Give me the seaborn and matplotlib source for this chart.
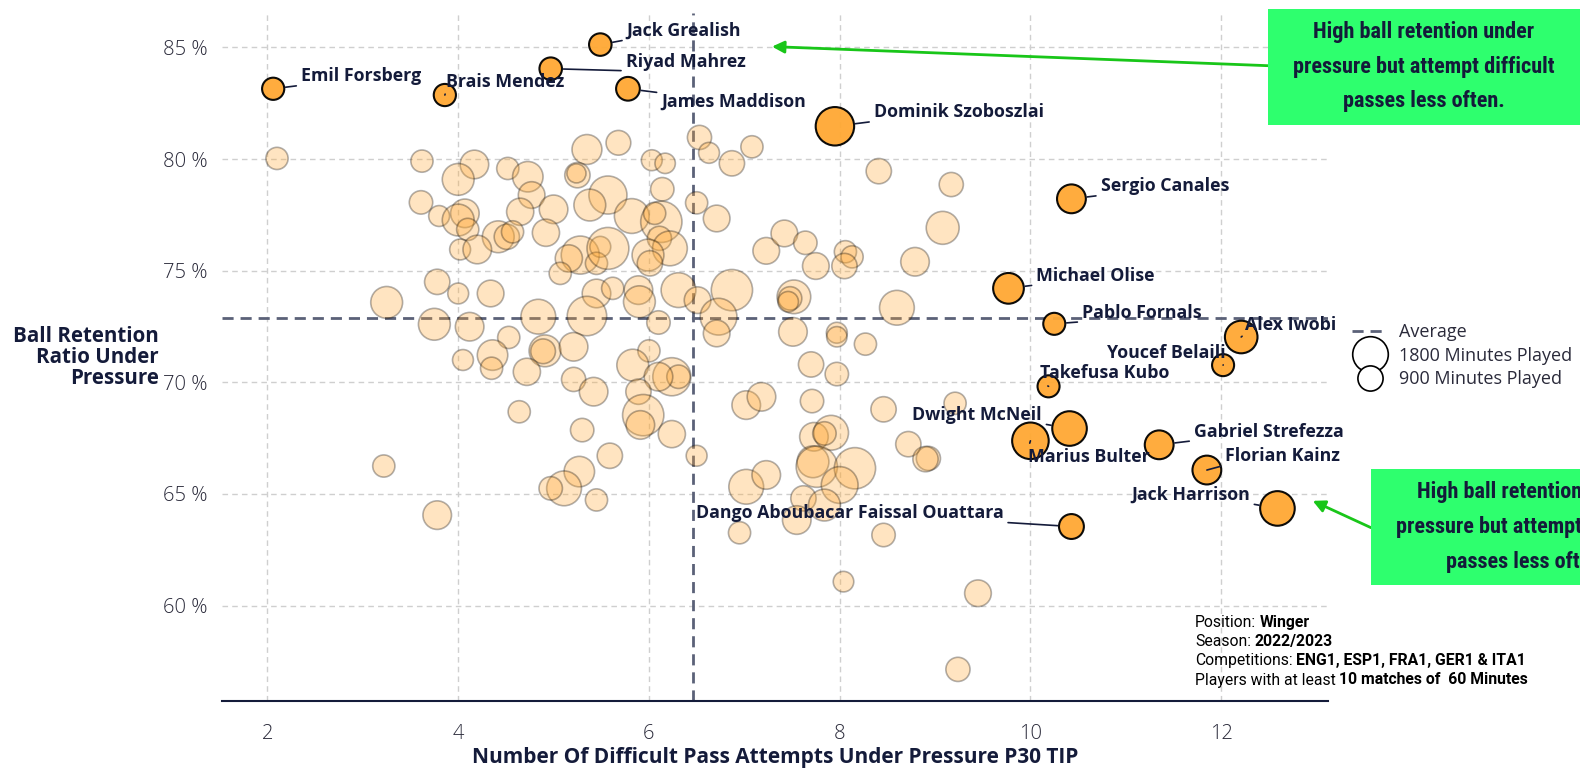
import numpy as np
import matplotlib
matplotlib.use("Agg")
import matplotlib.pyplot as plt
import seaborn as sns
from matplotlib.lines import Line2D
from matplotlib.patches import Rectangle
from matplotlib import font_manager

# --- data -------------------------------------------------------------------
# all other wingers (light bubbles)
others_x = [2.10, 3.62, 4.17, 4.00, 4.52, 4.73, 4.77, 5.35, 5.68, 5.25, 5.24, 5.57, 5.38,
            3.61, 3.80, 4.07, 4.00, 4.10, 4.65, 5.00, 4.92, 4.42, 4.51, 4.57, 4.02, 4.20,
            5.28, 5.16, 5.49, 5.45, 5.57, 5.07, 3.78, 4.00, 4.34, 3.25, 5.45, 5.62, 3.75,
            4.12, 4.84, 5.35, 4.53, 4.91, 4.89, 5.21, 4.05, 4.36, 4.35, 4.72, 5.21, 5.42,
            6.53, 6.63, 7.08, 6.87, 6.03, 6.17, 8.41, 9.17, 6.14, 6.50, 6.71, 5.82, 6.13,
            6.06, 6.11, 6.22, 5.99, 6.01, 7.23, 7.42, 7.64, 7.75, 8.06, 8.13, 8.05, 9.08,
            8.79, 5.89, 5.90, 6.31, 6.51, 6.87, 6.73, 6.71, 6.10, 7.52, 7.48, 7.46, 8.60,
            7.51, 7.97, 7.97, 8.27, 6.00, 5.83, 6.24, 6.31, 6.10, 7.70, 7.97, 5.89, 7.02,
            7.18, 7.71, 8.46, 9.21, 5.94, 5.91, 6.24, 6.50, 5.59, 7.73, 7.91, 7.84, 7.72,
            7.76, 8.16, 8.00, 7.62, 7.84, 7.55, 8.72, 8.93, 8.90, 7.02, 7.23, 6.95, 8.46,
            8.04, 9.45, 9.24, 4.64, 5.30, 5.27, 5.11, 4.97, 5.45, 3.22, 3.78]
others_y = [80.03, 79.91, 79.76, 79.09, 79.58, 79.21, 78.39, 80.43, 80.73, 79.28, 79.36, 78.39, 77.94,
            78.06, 77.45, 77.57, 77.27, 76.85, 77.64, 77.75, 76.70, 76.52, 76.52, 76.74, 75.95, 75.95,
            75.70, 75.55, 76.07, 75.33, 76.00, 74.88, 74.50, 73.98, 73.98, 73.58, 73.98, 74.21, 72.60,
            72.49, 72.94, 72.97, 72.01, 71.41, 71.39, 71.59, 71.00, 71.22, 70.63, 70.47, 70.13, 69.58,
            80.97, 80.28, 80.55, 79.81, 79.95, 79.81, 79.46, 78.86, 78.65, 78.04, 77.34, 77.45, 77.19,
            77.57, 76.45, 76.00, 75.70, 75.33, 75.89, 76.67, 76.25, 75.21, 75.85, 75.62, 75.21, 76.92,
            75.40, 74.13, 73.61, 74.13, 73.68, 74.13, 72.94, 72.19, 72.68, 73.83, 73.76, 73.61, 73.34,
            72.26, 72.22, 72.04, 71.71, 71.41, 70.77, 70.25, 70.25, 70.25, 70.80, 70.37, 69.58, 68.98,
            69.35, 69.16, 68.79, 69.06, 68.53, 68.09, 67.68, 66.71, 66.71, 67.56, 67.74, 67.71, 66.44,
            66.22, 66.15, 65.40, 64.80, 64.50, 63.83, 67.23, 66.59, 66.56, 65.32, 65.85, 63.26, 63.16,
            61.07, 60.55, 57.14, 68.68, 67.86, 66.00, 65.25, 65.25, 64.73, 66.25, 64.05]
others_minutes = [700, 700, 1160, 1440, 700, 1320, 1010, 1270, 870, 910, 520, 2060, 1440,
                  780, 620, 1160, 1440, 700, 1050, 1160, 1050, 1440, 910, 700, 620, 1160,
                  2060, 1050, 620, 700, 2490, 700, 910, 620, 1010, 1440, 1160, 700, 1440,
                  1160, 1720, 2210, 700, 1440, 870, 1160, 620, 1320, 700, 1050, 830, 1160,
                  830, 620, 700, 910, 620, 590, 910, 830, 780, 700, 1010, 1720, 2420,
                  700, 830, 1720, 1440, 910, 1010, 1010, 780, 1010, 700, 700, 910, 1540,
                  1160, 1160, 1440, 1720, 1010, 2420, 1920, 1010, 780, 1610, 780, 600, 1720,
                  1160, 620, 590, 700, 700, 1440, 2060, 780, 1160, 910, 780, 910, 1160,
                  1160, 780, 910, 700, 2420, 1160, 1050, 620, 910, 1160, 1720, 780, 1440,
                  2420, 2420, 1920, 910, 1440, 1160, 910, 830, 910, 1720, 1160, 700, 780,
                  600, 1010, 830, 700, 780, 1320, 1720, 780, 700, 700, 1160]

# highlighted players
names = ['Emil Forsberg', 'Brais Mendez', 'Jack Grealish', 'Riyad Mahrez', 'James Maddison',
         'Dominik Szoboszlai', 'Sergio Canales', 'Michael Olise', 'Pablo Fornals', 'Alex Iwobi',
         'Youcef Belaili', 'Takefusa Kubo', 'Dwight McNeil', 'Marius Bulter', 'Gabriel Strefezza',
         'Florian Kainz', 'Jack Harrison', 'Dango Aboubacar Faissal Ouattara']
hl_x = [2.06, 3.86, 5.49, 4.97, 5.78, 7.95, 10.43, 9.77, 10.25, 12.21,
        12.02, 10.19, 10.41, 10.00, 11.35, 11.85, 12.59, 10.43]
hl_y = [83.15, 82.87, 85.13, 84.05, 83.15, 81.47, 78.22, 74.21, 72.62, 72.03,
        70.77, 69.82, 67.93, 67.38, 67.20, 66.07, 64.35, 63.54]
hl_minutes = [700, 700, 720, 720, 800, 2100, 1180, 1340, 690, 1510,
              690, 690, 1700, 1900, 1180, 1180, 1700, 880]

avg_x = [6.46]
avg_y = [72.9]

x_ticks = [2, 4, 6, 8, 10, 12]
y_ticks = [60, 65, 70, 75, 80, 85]
y_ticklabels = [f"{v} %" for v in y_ticks]

legend_minutes = [1800, 900]

# --- layout / style ----------------------------------------------------------
# label offsets in points (dx, dy, ha)
label_pos = {
    'Emil Forsberg': (20, 9, 'left'), 'Brais Mendez': (1, 9.5, 'left'),
    'Jack Grealish': (19, 10, 'left'), 'Riyad Mahrez': (54, 5, 'left'),
    'James Maddison': (24, -9.5, 'left'), 'Dominik Szoboszlai': (28, 10, 'left'),
    'Sergio Canales': (21, 9, 'left'), 'Michael Olise': (20, 9, 'left'),
    'Pablo Fornals': (20, 8, 'left'), 'Alex Iwobi': (3, 9, 'left'),
    'Youcef Belaili': (1.5, 9, 'right'), 'Takefusa Kubo': (-6.5, 9.5, 'left'),
    'Dwight McNeil': (-20, 10, 'right'), 'Marius Bulter': (-1.5, -11.5, 'left'),
    'Gabriel Strefezza': (25, 9.5, 'left'), 'Florian Kainz': (13, 10, 'left'),
    'Jack Harrison': (-20, 10, 'right'), 'Dango Aboubacar Faissal Ouattara': (-49, 9.5, 'right'),
}

NAVY = '#141b3a'
ORANGE = '#FFA833'
GREEN_BOX = '#2EFF6E'
GREEN_ARROW = '#19C619'
AVG_COL = '#5b6178'
K = 0.365  # marker area per minute played

sns.set_style("white")
FONT = 'Open Sans'
plt.rcParams['font.family'] = [FONT, 'DejaVu Sans']

available = {f.name for f in font_manager.fontManager.ttflist}
box_font = 'Roboto'
for cand in ['Roboto Condensed', 'Liberation Sans Narrow', 'DejaVu Sans Condensed']:
    if cand in available:
        box_font = cand
        break
box_size = 16 if box_font != 'Roboto' else 13.5

fig = plt.figure(figsize=(15.8, 7.71), dpi=100)
ax = fig.add_axes([0.1403, 0.0904, 0.7002, 0.8926])

# background players
sns.scatterplot(x=others_x, y=others_y, s=np.array(others_minutes) * K, color=ORANGE,
                edgecolor='black', linewidth=1.2, alpha=0.3, ax=ax, zorder=2, legend=False)

# highlighted players
sns.scatterplot(x=hl_x, y=hl_y, s=np.array(hl_minutes) * K, color=ORANGE,
                edgecolor='black', linewidth=1.5, alpha=0.95, ax=ax, zorder=3, legend=False)

# average lines
ax.axhline(avg_y[0], ls=(0, (4, 2.5)), color=AVG_COL, lw=2, zorder=1.5)
ax.axvline(avg_x[0], ls=(0, (4, 2.5)), color=AVG_COL, lw=2, zorder=1.5)

# player labels
for name, x, y, m in zip(names, hl_x, hl_y, hl_minutes):
    dx, dy, ha = label_pos[name]
    rel = (0 if ha == 'left' else 1, 0 if dy > 0 else 1)
    ax.annotate(name, xy=(x, y), xytext=(dx, dy), textcoords='offset points',
                ha=ha, va='center', fontsize=12.8, fontweight='bold', color=NAVY, zorder=4,
                arrowprops=dict(arrowstyle='-', color=NAVY, lw=1.2, relpos=rel,
                                shrinkA=1, shrinkB=np.sqrt(m * K) / 2 + 1))

# axes styling
ax.set_xlim(1.52, 13.12)
ax.set_ylim(55.71, 86.54)
ax.set_xticks(x_ticks)
ax.set_yticks(y_ticks)
ax.set_yticklabels(y_ticklabels)
ax.grid(True, ls=(0, (4, 3)), color='#cfcfcf', lw=1)
ax.set_axisbelow(True)
for side in ['left', 'right', 'top']:
    ax.spines[side].set_visible(False)
ax.spines['bottom'].set_color(NAVY)
ax.spines['bottom'].set_linewidth(1.5)
ax.tick_params(axis='y', length=0, pad=10, labelsize=14.5, labelcolor='#2a2a3a')
ax.tick_params(axis='x', length=8, width=1.5, color=NAVY, pad=8, labelsize=14.5, labelcolor='#2a2a3a')
for lab in ax.get_xticklabels() + ax.get_yticklabels():
    lab.set_fontweight('light')

fig.text(0.1006, 0.536, "Ball Retention\nRatio Under\nPressure", ha='right', va='center',
         multialignment='right', fontsize=14.8, fontweight='bold', color=NAVY, linespacing=1.0)
fig.text(0.4905, 0.0169, "Number Of Difficult Pass Attempts Under Pressure P30 TIP",
         ha='center', va='center', fontsize=15, fontweight='bold', color=NAVY)

# legend
handles = [Line2D([], [], ls=(0, (4, 2.5)), color=AVG_COL, lw=2, label='Average')]
for m in legend_minutes:
    handles.append(Line2D([], [], ls='', marker='o', markersize=np.sqrt(m * K),
                          mfc='white', mec='black', mew=1.2, label=f'{m} Minutes Played'))
ax.legend(handles=handles, loc='upper left', bbox_to_anchor=(1.015, 0.56), frameon=False,
          fontsize=13, labelspacing=0.3, handlelength=2.0, handletextpad=0.6,
          borderaxespad=0, labelcolor='#2a2a3a')

# info block
info = [("Position:", "Winger"), ("Season:", "2022/2023"),
        ("Competitions:", "ENG1, ESP1, FRA1, GER1 & ITA1"),
        ("Players with at least", "10 matches of  60 Minutes")]
for i, (reg, bold) in enumerate(info):
    t = fig.text(0.7563, 1 - (622.7 + 19.1 * i) / 771, reg, ha='left', va='center',
                 fontsize=11.3, family='Roboto', color='black')
    plt.annotate(bold, xy=(1, 0.5), xycoords=t, xytext=(2.6, 0), textcoords='offset points',
                 ha='left', va='center', fontsize=11.3, family='Roboto',
                 fontweight='bold', color='black', annotation_clip=False)

# call-out boxes
msg = "High ball retention under\npressure but attempt difficult\npasses less often."
for (x0, y0, tx, ty) in [(0.8025, 0.8379, 0.9013, 0.9137), (0.8677, 0.2412, 0.9665, 0.3165)]:
    fig.add_artist(Rectangle((x0, y0), 0.1975, 0.151, transform=fig.transFigure,
                             facecolor=GREEN_BOX, edgecolor='none', zorder=5))
    fig.text(tx, ty, msg, ha='center', va='center', fontsize=box_size, fontweight='bold',
             family=box_font, color=NAVY, linespacing=1.75, zorder=6)

ax.annotate('', xy=(7.29, 85.04), xycoords='data', xytext=(0.8025, 0.9148),
            textcoords='figure fraction', annotation_clip=False,
            arrowprops=dict(arrowstyle='-|>', color=GREEN_ARROW, lw=2, mutation_scale=18,
                            shrinkA=0, shrinkB=0))
ax.annotate('', xy=(12.96, 64.69), xycoords='data', xytext=(0.8677, 0.3156),
            textcoords='figure fraction', annotation_clip=False,
            arrowprops=dict(arrowstyle='-|>', color=GREEN_ARROW, lw=2, mutation_scale=18,
                            shrinkA=0, shrinkB=0))

fig.savefig('out.png', dpi=100)
